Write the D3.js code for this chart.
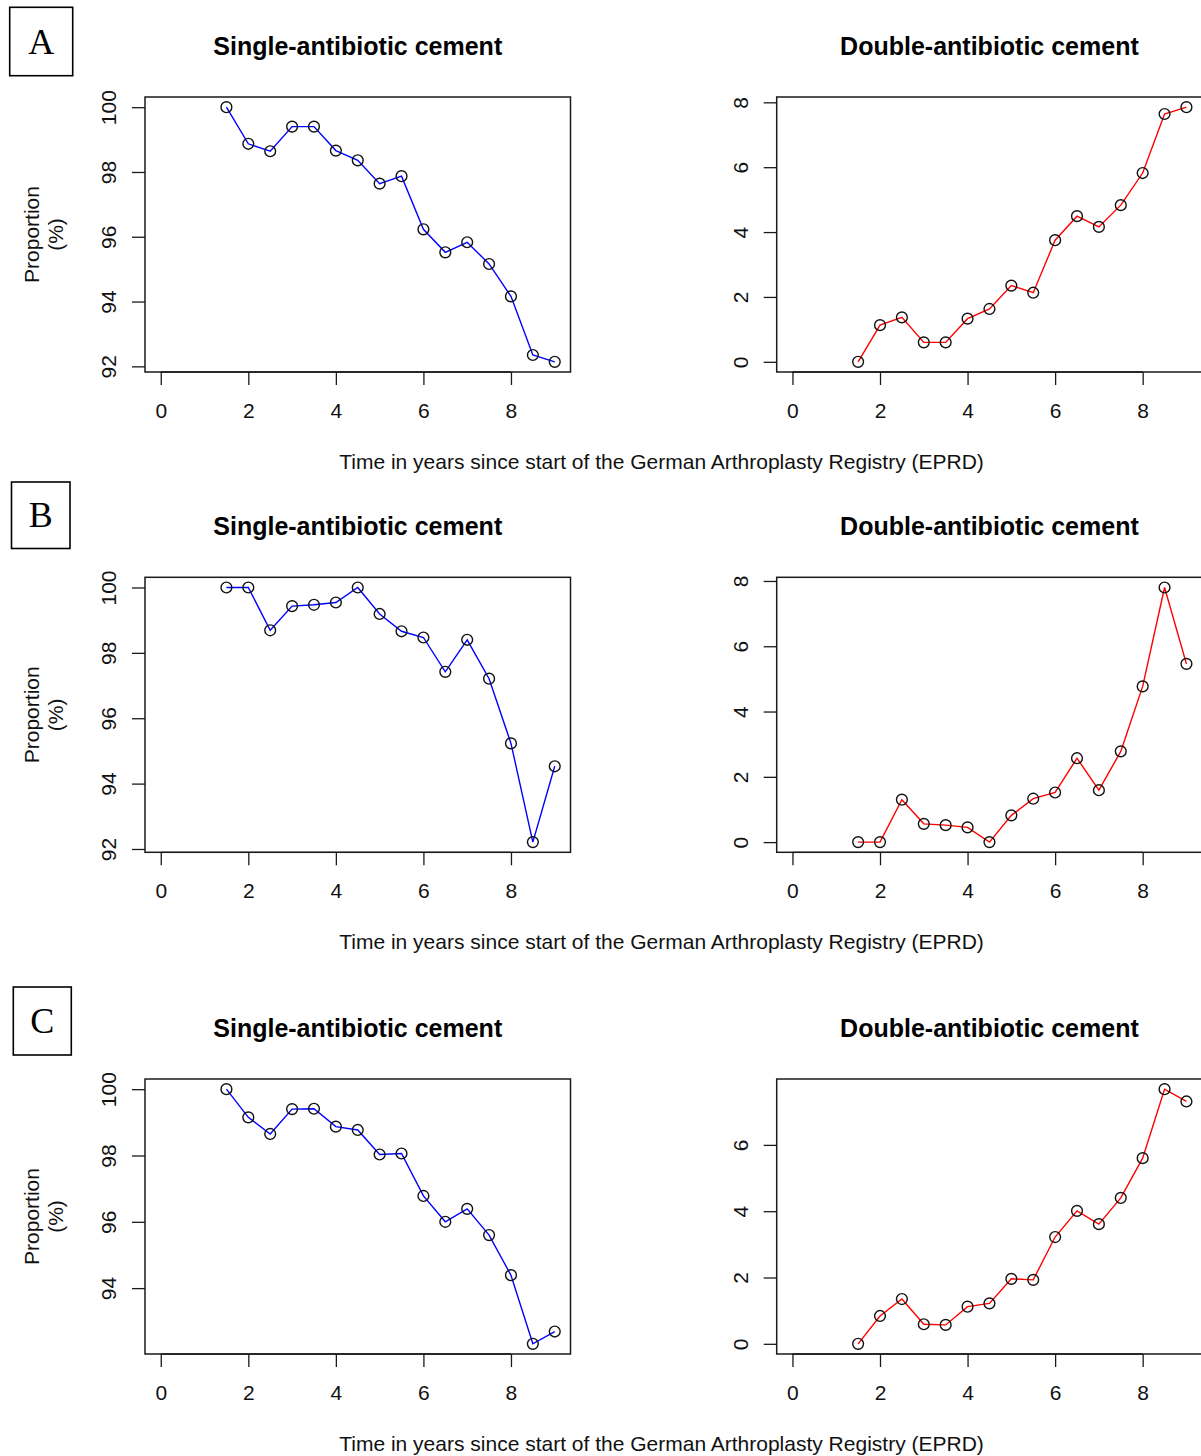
<!DOCTYPE html>
<html>
<head>
<meta charset="utf-8">
<script src="https://cdn.jsdelivr.net/npm/d3@7"></script>
<style>
  html, body { margin: 0; padding: 0; background: #fff; }
  svg { display: block; font-family: "Liberation Sans", Arial, Helvetica, sans-serif; }
</style>
</head>
<body>
<svg id="chart" width="1201" height="1456"></svg>
<script>
// ---------------- data ----------------
const years = [1.5, 2, 2.5, 3, 3.5, 4, 4.5, 5, 5.5, 6, 6.5, 7, 7.5, 8, 8.5, 9];

const singleA = [100, 98.87, 98.64, 99.40, 99.40, 98.66, 98.36, 97.64, 97.87, 96.23, 95.52, 95.83, 95.16, 94.16, 92.35, 92.14];
const doubleA = [0, 1.13, 1.37, 0.60, 0.60, 1.33, 1.63, 2.35, 2.13, 3.75, 4.49, 4.16, 4.83, 5.82, 7.64, 7.85];

const singleB = [100, 100, 98.69, 99.43, 99.47, 99.54, 100, 99.19, 98.66, 98.47, 97.42, 98.40, 97.21, 95.23, 92.21, 94.53];
const doubleB = [0, 0, 1.30, 0.56, 0.52, 0.45, 0, 0.82, 1.33, 1.52, 2.57, 1.59, 2.78, 4.77, 7.80, 5.46];

const singleC = [100, 99.15, 98.65, 99.40, 99.41, 98.87, 98.77, 98.03, 98.06, 96.78, 96.00, 96.39, 95.60, 94.39, 92.32, 92.69];
const doubleC = [0, 0.84, 1.35, 0.59, 0.57, 1.12, 1.22, 1.96, 1.93, 3.22, 4.01, 3.61, 4.40, 5.60, 7.68, 7.31];

const xTicks = [0, 2, 4, 6, 8];
const yTicksSingleAB = [92, 94, 96, 98, 100];
const yTicksSingleC = [94, 96, 98, 100];
const yTicksDoubleAB = [0, 2, 4, 6, 8];
const yTicksDoubleC = [0, 2, 4, 6];

const panelLetters = ["A", "B", "C"];
const titleSingle = "Single-antibiotic cement";
const titleDouble = "Double-antibiotic cement";
const xLabel = "Time in years since start of the German Arthroplasty Registry (EPRD)";
const yLabelLines = ["Proportion", "(%)"];

const rows = [
  { letter: panelLetters[0], single: singleA, double: doubleA, ySingleTicks: yTicksSingleAB, yDoubleTicks: yTicksDoubleAB },
  { letter: panelLetters[1], single: singleB, double: doubleB, ySingleTicks: yTicksSingleAB, yDoubleTicks: yTicksDoubleAB },
  { letter: panelLetters[2], single: singleC, double: doubleC, ySingleTicks: yTicksSingleC, yDoubleTicks: yTicksDoubleC }
];

// ---------------- layout ----------------
const svg = d3.select("#chart");
const rowTops = [97, 577.3, 1079];
const letterBoxes = [
  { x: 9.7, y: 7.3, w: 63, h: 68.4 },
  { x: 11.5, y: 482, w: 58.5, h: 66.5 },
  { x: 13.3, y: 987, w: 58, h: 68 }
];
const plotW = 425.5, plotH = 275;
const leftX0 = 145, rightX0 = 776.7;
const ink = "#1a1a1a";
const fs = 21;

// R-style 4% extension of the data range
function rDomain(vals) {
  const [lo, hi] = d3.extent(vals);
  const pad = (hi - lo) * 0.04;
  return [lo - pad, hi + pad];
}

function drawPanel(g, values, yTicks, color, title) {
  const x = d3.scaleLinear().domain(rDomain([0, 9])).range([0, plotW]);
  const y = d3.scaleLinear().domain(rDomain(values)).range([plotH, 0]);

  // title
  g.append("text")
    .attr("x", plotW / 2).attr("y", -42)
    .attr("text-anchor", "middle")
    .attr("font-size", 25).attr("font-weight", "bold")
    .attr("fill", "#000")
    .text(title);

  // x axis
  const xa = g.append("g").attr("transform", `translate(0,${plotH})`)
    .call(d3.axisBottom(x).tickValues(xTicks).tickSize(13).tickSizeOuter(0).tickPadding(18).tickFormat(d3.format("d")));
  xa.select(".domain").remove();
  xa.append("line").attr("x1", x(xTicks[0])).attr("x2", x(xTicks[xTicks.length - 1]))
    .attr("stroke", ink).attr("stroke-width", 1.3);
  xa.selectAll(".tick line").attr("stroke", ink).attr("stroke-width", 1.3);
  xa.selectAll(".tick text").attr("font-size", fs).attr("fill", "#111");

  // y axis with rotated labels
  const ya = g.append("g")
    .call(d3.axisLeft(y).tickValues(yTicks).tickSize(13).tickSizeOuter(0).tickFormat(d3.format("d")));
  ya.select(".domain").remove();
  ya.selectAll(".tick line").attr("stroke", ink).attr("stroke-width", 1.3);
  ya.selectAll(".tick text")
    .attr("transform", "rotate(-90)")
    .attr("x", 0).attr("y", -29).attr("dy", 0)
    .attr("text-anchor", "middle")
    .attr("font-size", fs).attr("fill", "#111");

  // box
  g.append("rect").attr("x", 0).attr("y", 0).attr("width", plotW).attr("height", plotH)
    .attr("fill", "none").attr("stroke", ink).attr("stroke-width", 1.5);

  // line
  const pts = years.map((yr, i) => [yr, values[i]]);
  g.append("path").datum(pts)
    .attr("fill", "none").attr("stroke", color).attr("stroke-width", 1.4)
    .attr("d", d3.line().x(d => x(d[0])).y(d => y(d[1])));

  // points
  g.selectAll("circle.pt").data(pts).enter().append("circle")
    .attr("class", "pt")
    .attr("cx", d => x(d[0])).attr("cy", d => y(d[1]))
    .attr("r", 5.4)
    .attr("fill", "none").attr("stroke", "#111").attr("stroke-width", 1.4);
}

rows.forEach((row, ri) => {
  const top = rowTops[ri];

  // letter box
  const lb = letterBoxes[ri];
  svg.append("rect").attr("x", lb.x).attr("y", lb.y).attr("width", lb.w).attr("height", lb.h)
    .attr("fill", "none").attr("stroke", "#000").attr("stroke-width", 1.6);
  svg.append("text")
    .attr("x", lb.x + lb.w / 2).attr("y", lb.y + lb.h / 2 + 12)
    .attr("text-anchor", "middle")
    .attr("font-family", "'Liberation Serif', 'Times New Roman', serif")
    .attr("font-size", 36).attr("fill", "#000")
    .text(row.letter);

  // y label
  const cy = top + plotH / 2;
  yLabelLines.forEach((t, li) => {
    svg.append("text")
      .attr("transform", `translate(${39 + li * 24},${cy}) rotate(-90)`)
      .attr("text-anchor", "middle")
      .attr("font-size", fs).attr("fill", "#111")
      .text(t);
  });

  const gL = svg.append("g").attr("transform", `translate(${leftX0},${top})`);
  drawPanel(gL, row.single, row.ySingleTicks, "#0000ff", titleSingle);
  const gR = svg.append("g").attr("transform", `translate(${rightX0},${top})`);
  drawPanel(gR, row.double, row.yDoubleTicks, "#ff0000", titleDouble);

  // x label
  svg.append("text")
    .attr("x", 661.5).attr("y", top + plotH + 97)
    .attr("text-anchor", "middle")
    .attr("font-size", fs).attr("fill", "#111")
    .text(xLabel);
});
</script>
</body>
</html>
